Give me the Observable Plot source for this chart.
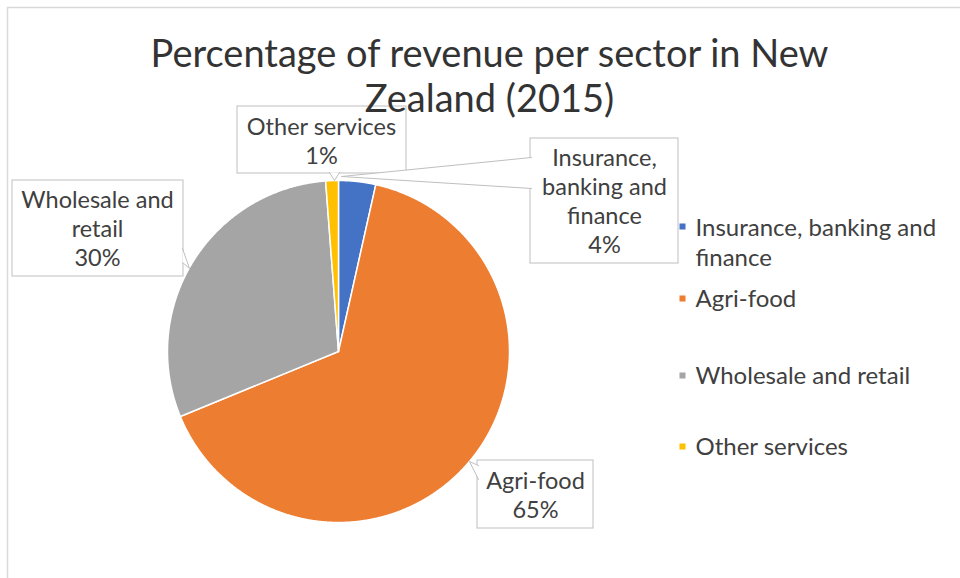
<!DOCTYPE html>
<html>
<head>
<meta charset="utf-8">
<script src="https://cdn.jsdelivr.net/npm/d3@7"></script>
<script src="https://cdn.jsdelivr.net/npm/@observablehq/plot@0.6"></script>
<style>
  html, body { margin: 0; padding: 0; background: #fff; }
  #chart { width: 960px; height: 578px; }
</style>
</head>
<body>
<div id="chart"></div>
<script>
// ---------------- data ----------------
const sectors = ["Insurance, banking and finance", "Agri-food", "Wholesale and retail", "Other services"];
const shares = [3.5, 65.3, 30.0, 1.2];
const sectorColors = ["#4472C4", "#ED7D31", "#A5A5A5", "#FFC000"];
const calloutNames = ["Insurance,\nbanking and\nfinance", "Agri-food", "Wholesale and\nretail", "Other services"];
const legendNames = ["Insurance, banking and\nfinance", "Agri-food", "Wholesale and retail", "Other services"];
const chartTitle = "Percentage of revenue per sector in New\nZealand (2015)";

// ---------------- layout ----------------
const W = 960, H = 578;
const CX = 338, CY = 351, R = 171;
const FONT = "Lato, 'Liberation Sans', sans-serif";
const TEXT = "#404040", BORDER = "#BFBFBF";
// callout boxes: [x1, y1, x2, y2], pointer [base, tip, base], text centre x, last baseline
const calloutLayout = [
  {box: [530, 138, 678, 263], ptr: [[531, 157], [341, 176], [531, 188]], tx: 604, ty: 252},
  {box: [477, 460, 593, 528], ptr: [[478, 465], [469, 461], [478, 479]], tx: 535, ty: 517},
  {box: [12, 180, 183, 276], ptr: [[182, 248], [189, 268], [182, 262]], tx: 97, ty: 265},
  {box: [237, 106, 406, 173], ptr: [[329, 172], [334, 180], [339, 172]], tx: 321, ty: 163}
];
const legendLayout = {sx: 682, tx: 695, baselines: [265, 306, 383, 454], squareY: [226, 298, 375, 446]};

// ---------------- geometry ----------------
const arcs = d3.pie().sort(null).value(d => d)(shares);
const slicePts = [];
arcs.forEach((a, i) => {
  const n = Math.max(2, Math.ceil((a.endAngle - a.startAngle) / (Math.PI / 720)));
  slicePts.push({sector: sectors[i], x: CX, y: CY});
  for (let k = 0; k <= n; k++) {
    const t = a.startAngle + (a.endAngle - a.startAngle) * k / n;
    slicePts.push({sector: sectors[i], x: CX + R * Math.sin(t), y: CY - R * Math.cos(t)});
  }
  slicePts.push({sector: sectors[i], x: CX, y: CY});
});

const callouts = sectors.map((s, i) => ({
  sector: s,
  label: calloutNames[i] + "\n" + Math.round(shares[i]) + "%",
  ...calloutLayout[i]
}));
const pointerPts = callouts.flatMap(c => c.ptr.map(p => ({sector: c.sector, x: p[0], y: p[1]})));

const legend = sectors.map((s, i) => ({
  sector: s, label: legendNames[i],
  sx: legendLayout.sx, sy: legendLayout.squareY[i],
  tx: legendLayout.tx, ty: legendLayout.baselines[i]
}));

const chart = Plot.plot({
  width: W, height: H, margin: 0,
  x: {domain: [0, W], range: [0, W], axis: null},
  y: {domain: [0, H], range: [0, H], axis: null},
  color: {domain: sectors, range: sectorColors},
  style: {fontFamily: FONT, background: "#fff"},
  marks: [
    // chart-area border
    Plot.ruleX([7], {y1: 7, y2: H, stroke: "#D9D9D9", strokeWidth: 1.5}),
    Plot.ruleY([7], {x1: 7, x2: W, stroke: "#D9D9D9", strokeWidth: 1.5}),
    // pie slices
    Plot.line(slicePts, {x: "x", y: "y", z: "sector", fill: "sector", stroke: "#fff",
      strokeWidth: 1.5, strokeLinejoin: "round", curve: "linear"}),
    // callout boxes
    Plot.rect(callouts, {x1: d => d.box[0], y1: d => d.box[1], x2: d => d.box[2], y2: d => d.box[3],
      fill: "#fff", stroke: BORDER, strokeWidth: 1}),
    Plot.line(pointerPts, {x: "x", y: "y", z: "sector", fill: "#fff", stroke: BORDER,
      strokeWidth: 1, curve: "linear"}),
    Plot.text(callouts, {x: "tx", y: "ty", text: "label", lineAnchor: "bottom",
      lineHeight: 29 / 23.5, fontSize: 23.5, fill: TEXT}),
    // title (drawn above the callout boxes)
    Plot.text([chartTitle], {x: () => 489, y: () => 111, text: d => d, lineAnchor: "bottom",
      lineHeight: 45 / 38, fontSize: 38, fill: "#333"}),
    // legend
    Plot.dot(legend, {x: "sx", y: "sy", fill: "sector", symbol: "square", r: 3.4}),
    Plot.text(legend, {x: "tx", y: "ty", text: "label", textAnchor: "start", lineAnchor: "bottom",
      lineHeight: 30 / 24, fontSize: 24, fill: TEXT})
  ]
});
document.getElementById("chart").append(chart);
</script>
</body>
</html>
